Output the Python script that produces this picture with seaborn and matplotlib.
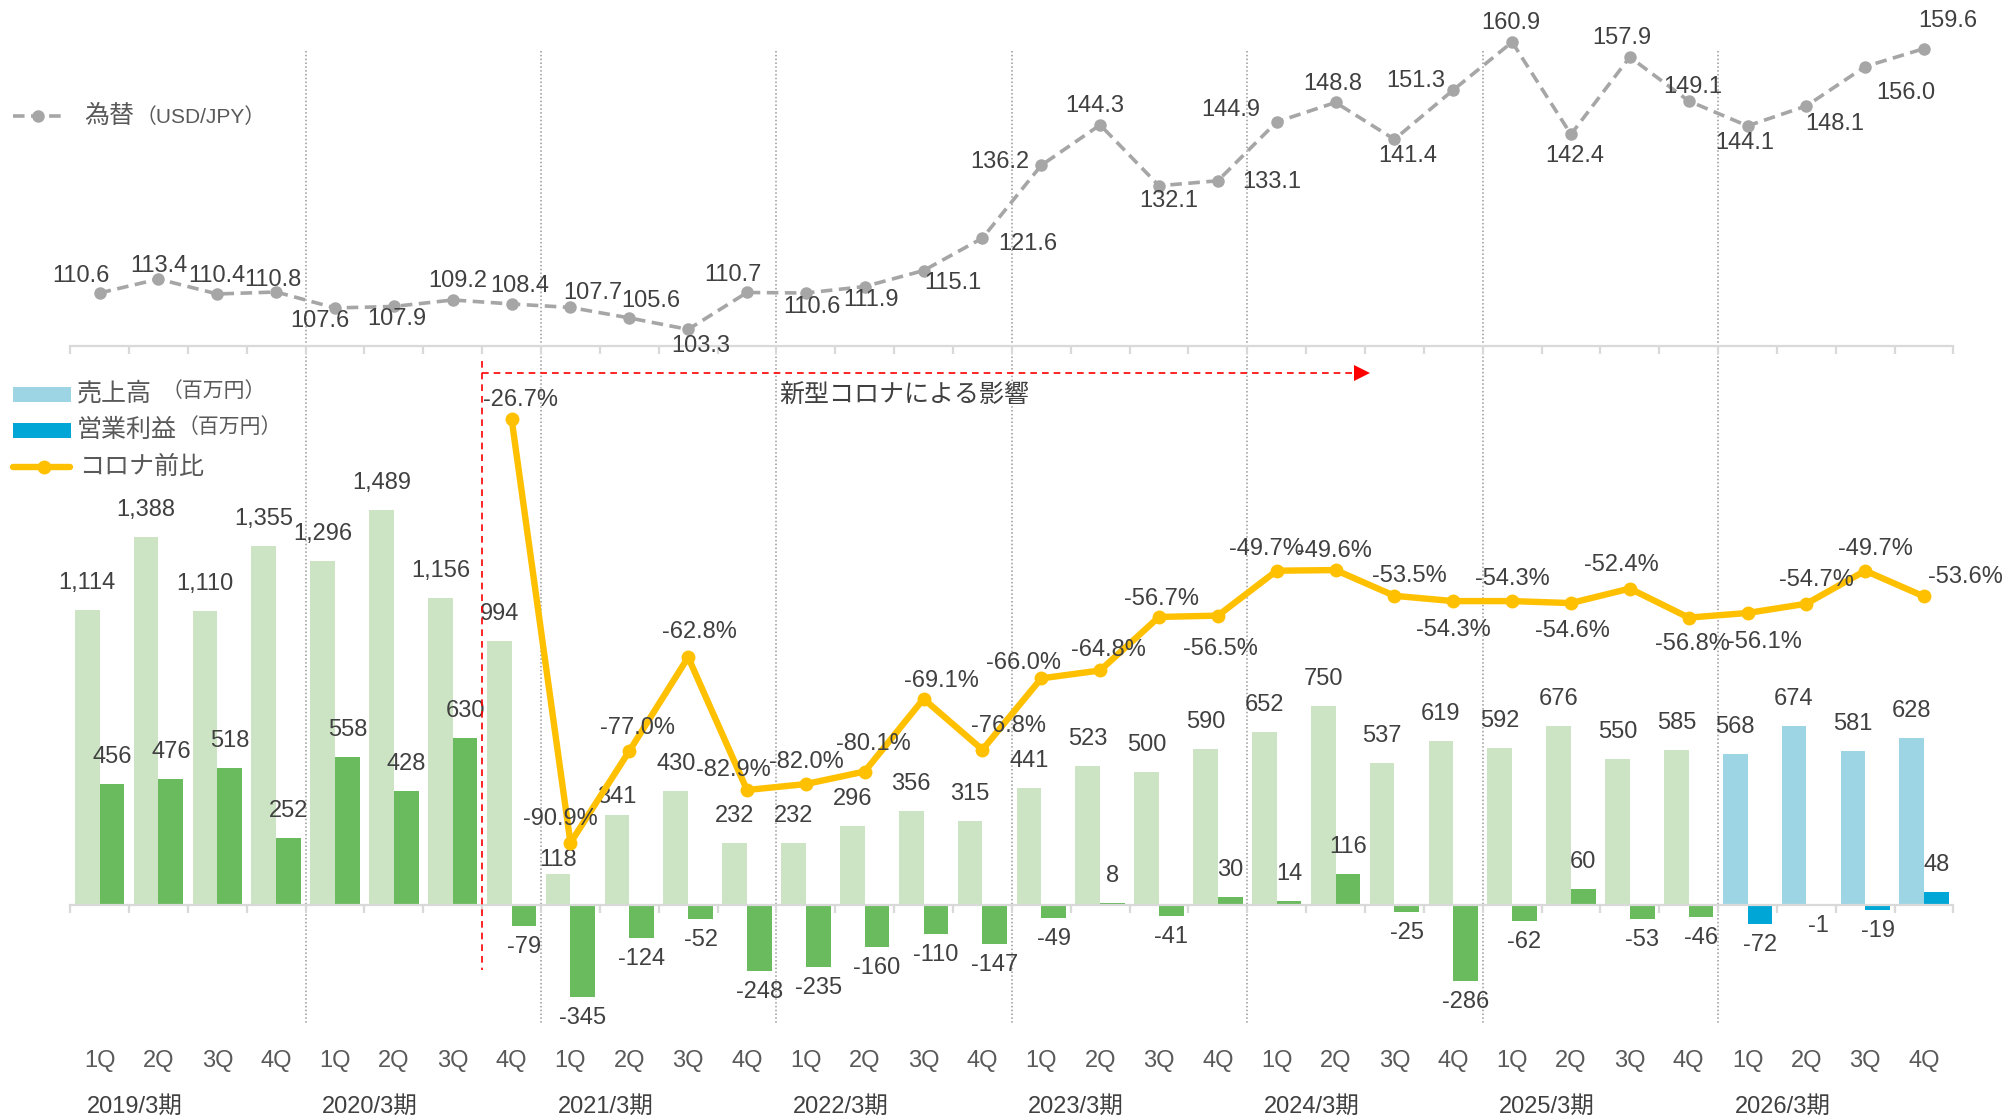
import numpy as np
import pandas as pd
import matplotlib
matplotlib.use("Agg")
import matplotlib.pyplot as plt
import matplotlib.transforms as mtransforms
from matplotlib.patches import Rectangle
from matplotlib.lines import Line2D
import seaborn as sns

# --- values ---
YEARS = ["2019/3期", "2020/3期", "2021/3期", "2022/3期",
         "2023/3期", "2024/3期", "2025/3期", "2026/3期"]
QUARTERS = ["1Q", "2Q", "3Q", "4Q"]

SALES = [1114, 1388, 1110, 1355, 1296, 1489, 1156, 994,
         118, 341, 430, 232, 232, 296, 356, 315,
         441, 523, 500, 590, 652, 750, 537, 619,
         592, 676, 550, 585, 568, 674, 581, 628]
PROFIT = [456, 476, 518, 252, 558, 428, 630, -79,
          -345, -124, -52, -248, -235, -160, -110, -147,
          -49, 8, -41, 30, 14, 116, -25, -286,
          -62, 60, -53, -46, -72, -1, -19, 48]
# コロナ前比 starts at 2020/3期 4Q
CORONA_START = 7
CORONA_RATIO = [-26.7,
                -90.9, -77.0, -62.8, -82.9,
                -82.0, -80.1, -69.1, -76.8,
                -66.0, -64.8, -56.7, -56.5,
                -49.7, -49.6, -53.5, -54.3,
                -54.3, -54.6, -52.4, -56.8,
                -56.1, -54.7, -49.7, -53.6]
FX_RATE = [110.6, 113.4, 110.4, 110.8, 107.6, 107.9, 109.2, 108.4,
           107.7, 105.6, 103.3, 110.7, 110.6, 111.9, 115.1, 121.6,
           136.2, 144.3, 132.1, 133.1, 144.9, 148.8, 141.4, 151.3,
           160.9, 142.4, 157.9, 149.1, 144.1, 148.1, 156.0, 159.6]

# label placement (pixel offsets from the marker), picked by eye
FX_LABEL_OFFSETS = [(-19, 17), (0, 13), (0, 18), (-3, 12), (-15, -13), (3, -13), (5, 19), (8, 18),
                    (22, 14), (22, 17), (13, -17), (-14, 17), (6, -14), (6, -13), (29, -12), (45, -6),
                    (-41, 3), (-5, 19), (10, -15), (54, -1), (-46, 12), (-3, 18), (13, -17), (-37, 9),
                    (-1, 19), (4, -22), (-8, 19), (4, 14), (-3, -17), (28, -18), (41, -26), (24, 28)]
RATIO_LABEL_OFFSETS = [(9, 19),
                       (-10, 24), (8, 23), (11, 25), (-14, 20),
                       (1, 22), (9, 28), (18, 18), (26, 24),
                       (-18, 15), (8, 20), (3, 18), (3, -33),
                       (-10, 22), (-1, 19), (15, 20), (0, -29),
                       (0, 22), (1, -28), (-8, 24), (4, -26),
                       (17, -29), (10, 24), (10, 22), (41, 19)]

GREEN_LIGHT = "#CDE4C4"
GREEN = "#6ABA5E"
BLUE_LIGHT = "#9DD5E5"
BLUE = "#00A6D6"
YELLOW = "#FFC000"
GRAY = "#A6A6A6"
TEXT = "#404040"
TEXT_GRAY = "#595959"
AXIS = "#D9D9D9"

W, H = 2002, 1117


def fx(x):
    return x / W


def fy(y):
    return 1 - y / H


sns.set_style("white")
plt.rcParams["font.family"] = ["Liberation Sans", "Noto Sans CJK JP", "DejaVu Sans"]
LBL = 17

fig = plt.figure(figsize=(W / 100, H / 100), dpi=100)

left, right = 70.2, 1953.5
ax = fig.add_axes([fx(left), fy(1030), (right - left) / W, (1030 - 346) / H])
ax_top = fig.add_axes([fx(left), fy(346), (right - left) / W, 346 / H])
ax.set_facecolor("none")
ax_top.set_facecolor("none")

keys = [f"{y} {q}" for y in YEARS for q in QUARTERS]
n = len(keys)
df = pd.DataFrame({
    "期": keys * 2,
    "系列": ["売上高"] * n + ["営業利益"] * n,
    "値": SALES + PROFIT,
})

# --- bars ---
sns.barplot(data=df, x="期", y="値", hue="系列", order=keys,
            hue_order=["売上高", "営業利益"], palette=[GREEN_LIGHT, GREEN],
            width=0.84, saturation=1, errorbar=None, legend=False,
            linewidth=0, ax=ax)

# last fiscal year is drawn in blue
for cont, col in zip(ax.containers, [BLUE_LIGHT, BLUE]):
    for i, bar in enumerate(cont):
        if i >= 28:
            bar.set_facecolor(col)

for cont, vals in zip(ax.containers, [SALES, PROFIT]):
    for bar, v in zip(cont, vals):
        xc = bar.get_x() + bar.get_width() / 2
        dy = 27 if v >= 0 else -21
        if v == 118:
            dy = 14
        if v == 341:
            dy = 18
        ax.annotate(f"{v:,}", xy=(xc, v), xytext=(0, dy), textcoords="offset pixels",
                    ha="center", va="center", fontsize=LBL, color=TEXT)

units_per_px = 3.77
ax.set_ylim(-(1030 - 905) * units_per_px, (905 - 346) * units_per_px)
ax.set_xlim(-0.5, n - 0.5)
ax.set_xticks(np.arange(-0.5, n, 1.0))
ax.set_xticklabels([])
ax.set_yticks([])
ax.set_xlabel("")
ax.set_ylabel("")
for s in ["top", "right", "left"]:
    ax.spines[s].set_visible(False)
ax.spines["bottom"].set_position(("data", 0))
ax.spines["bottom"].set_color(AXIS)
ax.spines["bottom"].set_linewidth(1.6)
ax.tick_params(axis="x", bottom=True, direction="out", length=6, width=1.6, color=AXIS)

# --- コロナ前比 line ---
ax2 = ax.twinx()
sns.lineplot(x=np.arange(CORONA_START, n), y=CORONA_RATIO, ax=ax2, color=YELLOW,
             linewidth=4.6, marker="o", markersize=10, markeredgewidth=0, zorder=5)
for i, (v, (dx, dy)) in enumerate(zip(CORONA_RATIO, RATIO_LABEL_OFFSETS)):
    ax2.annotate(f"{v:.1f}%", xy=(CORONA_START + i, v), xytext=(dx, dy),
                 textcoords="offset pixels", ha="center", va="center",
                 fontsize=LBL, color=TEXT, zorder=6)
pct_per_px = 1 / 6.605
ax2.set_ylim(-26.7 - (1030 - 418.8) * pct_per_px, -26.7 + (418.8 - 346) * pct_per_px)
ax2.set_xlim(-0.5, n - 0.5)
ax2.set_yticks([])
ax2.set_ylabel("")
for s in ax2.spines.values():
    s.set_visible(False)

# --- exchange rate ---
sns.lineplot(x=np.arange(n), y=FX_RATE, ax=ax_top, color=GRAY, linewidth=2.6,
             marker="o", markersize=9, markeredgewidth=0)
ax_top.lines[0].set_linestyle((0, (3.2, 1.8)))
for i, (v, (dx, dy)) in enumerate(zip(FX_RATE, FX_LABEL_OFFSETS)):
    ax_top.annotate(f"{v:.1f}", xy=(i, v), xytext=(dx, dy), textcoords="offset pixels",
                    ha="center", va="center", fontsize=LBL, color=TEXT)
fx_per_px = 1 / 4.988
ax_top.set_ylim(103.3 - (346 - 329.4) * fx_per_px, 160.9 + 42.1 * fx_per_px)
ax_top.set_xlim(-0.5, n - 0.5)
ax_top.set_xticks(np.arange(-0.5, n, 1.0))
ax_top.set_xticklabels([])
ax_top.set_yticks([])
ax_top.set_xlabel("")
ax_top.set_ylabel("")
for s in ["top", "right", "left"]:
    ax_top.spines[s].set_visible(False)
ax_top.spines["bottom"].set_color(AXIS)
ax_top.spines["bottom"].set_linewidth(1.6)
ax_top.tick_params(axis="x", bottom=True, direction="out", length=6, width=1.6, color=AXIS)

# --- fiscal-year separators and axis labels ---
blend = mtransforms.blended_transform_factory(ax.transData, fig.transFigure)
for k in range(1, len(YEARS)):
    xb = 4 * k - 0.5
    ax.plot([xb, xb], [fy(51), fy(1025)], transform=blend, clip_on=False,
            color="#999999", lw=1.1, ls=(0, (1, 1.5)), zorder=0.5)

for i, key in enumerate(keys):
    ax.text(i, fy(1061), QUARTERS[i % 4], transform=blend, ha="center", va="center",
            fontsize=LBL, color=TEXT_GRAY)
for k, yr in enumerate(YEARS):
    ax.text(4 * k - 0.22, fy(1107), yr, transform=blend, ha="left", va="center",
            fontsize=LBL, color=TEXT)

# --- 新型コロナによる影響 marker ---
ax.plot([6.5, 6.5], [(905 - 361) * units_per_px, (905 - 970) * units_per_px],
        color="#FF0000", lw=1.2, ls=(0, (4, 3)), zorder=4)
y_arrow = (905 - 373) * units_per_px
ax.plot([6.5, 21.3], [y_arrow, y_arrow], color="#FF0000", lw=1.2, ls=(0, (4, 3)), zorder=4)
ax.plot([21.45], [y_arrow], marker=">", markersize=12, color="#FF0000",
        markeredgewidth=0, zorder=4)
ax.text(13.67, (905 - 395) * units_per_px, "新型コロナによる影響", ha="center", va="center",
        fontsize=LBL + 1, color=TEXT)

# --- legends drawn by hand ---
fig.add_artist(Line2D([fx(13), fx(64)], [fy(116), fy(116)], color=GRAY, lw=2.6,
                      ls=(0, (3.2, 1.8))))
fig.add_artist(Line2D([fx(38)], [fy(116)], color=GRAY, marker="o", markersize=9,
                      markeredgewidth=0))
fig.text(fx(84), fy(116), "為替", fontsize=LBL + 1, color=TEXT_GRAY, va="center")
fig.text(fx(136), fy(117), "（USD/JPY）", fontsize=LBL - 2, color=TEXT_GRAY, va="center")

fig.add_artist(Rectangle((fx(13), fy(402)), fx(58), 15 / H, transform=fig.transFigure,
                         facecolor=BLUE_LIGHT, edgecolor="none"))
fig.text(fx(77), fy(394), "売上高", fontsize=LBL + 1, color=TEXT_GRAY, va="center")
fig.text(fx(162), fy(391), "（百万円）", fontsize=LBL - 2, color=TEXT_GRAY, va="center")
fig.add_artist(Rectangle((fx(13), fy(438)), fx(58), 15 / H, transform=fig.transFigure,
                         facecolor=BLUE, edgecolor="none"))
fig.text(fx(77), fy(430), "営業利益", fontsize=LBL + 1, color=TEXT_GRAY, va="center")
fig.text(fx(178), fy(427), "（百万円）", fontsize=LBL - 2, color=TEXT_GRAY, va="center")
fig.add_artist(Line2D([fx(13), fx(70)], [fy(467), fy(467)], color=YELLOW, lw=4.6))
fig.add_artist(Line2D([fx(44)], [fy(467)], color=YELLOW, marker="o", markersize=10,
                      markeredgewidth=0))
fig.text(fx(79), fy(467), "コロナ前比", fontsize=LBL + 1, color=TEXT_GRAY, va="center")

fig.savefig("out.png", dpi=100)
